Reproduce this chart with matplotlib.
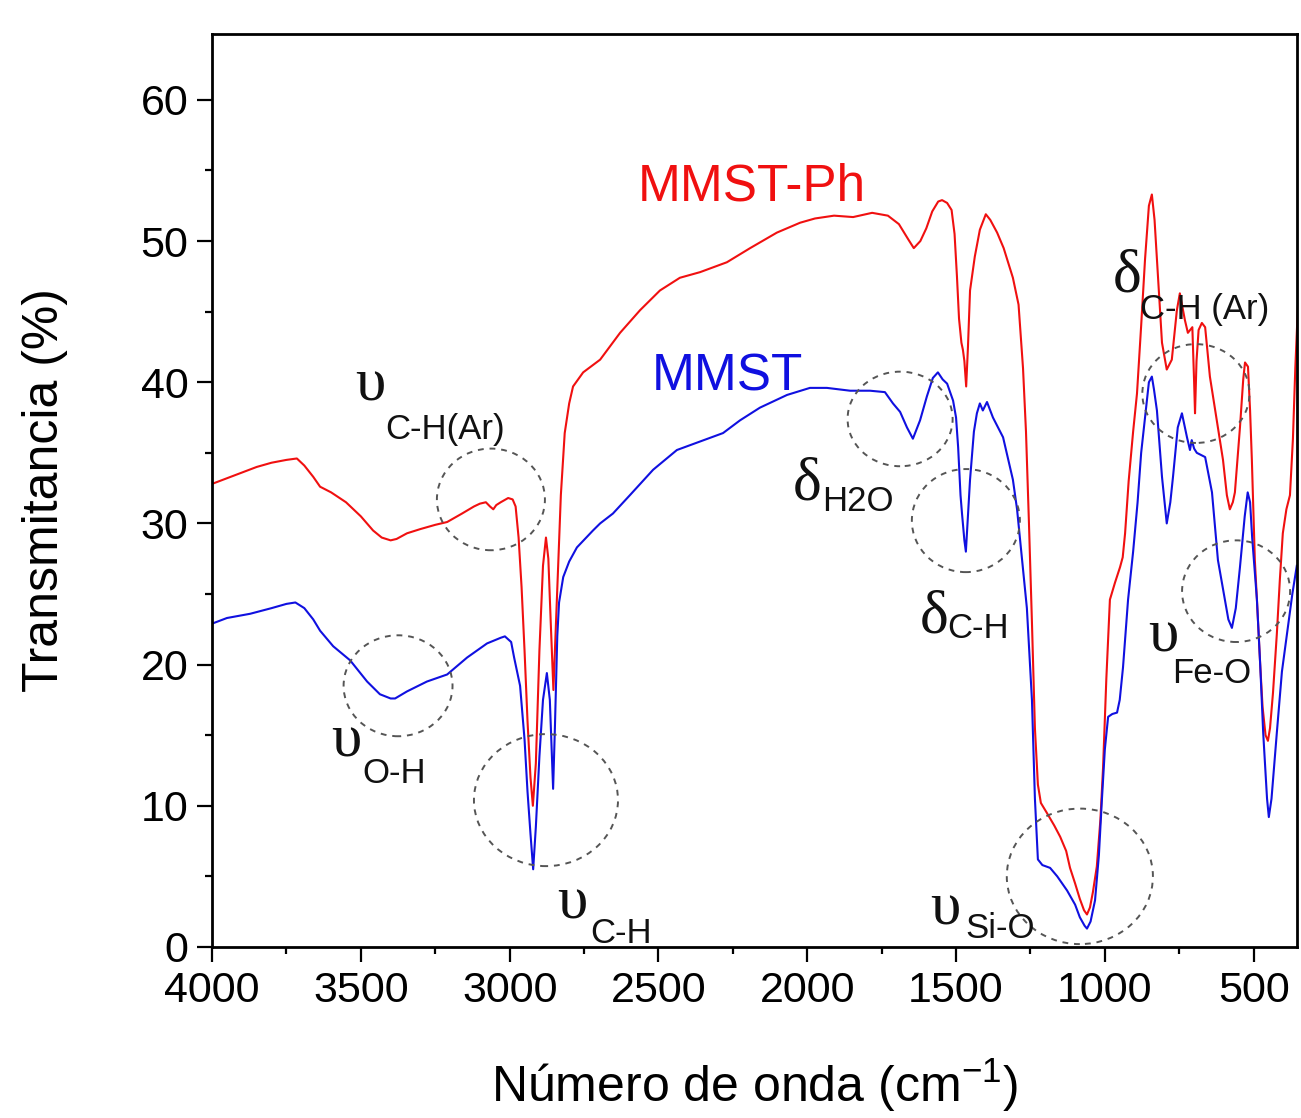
import matplotlib
matplotlib.use("Agg")
import matplotlib.pyplot as plt
from matplotlib.patches import Ellipse
from matplotlib.ticker import MultipleLocator

# FTIR spectra: wavenumber (cm^-1) and transmittance (%)
wn_ph = [4000, 3950, 3900, 3850, 3800, 3750, 3715, 3690, 3660, 3637, 3600, 3550,
         3500, 3459, 3430, 3400, 3380, 3345, 3300, 3250, 3210, 3160, 3120, 3100,
         3080, 3066, 3055, 3045, 3030, 3005, 2990, 2980, 2970, 2960, 2950, 2940,
         2930, 2922, 2912, 2900, 2888, 2878, 2870, 2862, 2853, 2845, 2837, 2828,
         2815, 2800, 2787, 2753, 2696, 2629, 2562, 2495, 2428, 2360, 2270, 2192,
         2102, 2024, 1974, 1910, 1846, 1782, 1729, 1692, 1660, 1642, 1620, 1600,
         1580, 1560, 1547, 1530, 1515, 1505, 1497, 1490, 1482, 1477, 1472, 1466,
         1460, 1453, 1437, 1420, 1400, 1385, 1362, 1340, 1309, 1290, 1275, 1265,
         1255, 1245, 1235, 1225, 1215, 1195, 1170, 1150, 1130, 1117, 1100, 1084,
         1070, 1060, 1050, 1040, 1027, 1015, 1006, 995, 983, 966, 949, 940, 932,
         920, 905, 892, 878, 865, 852, 842, 833, 825, 808, 792, 775, 758, 748,
         731, 721, 706, 700, 697, 692, 685, 674, 663, 647, 624, 603, 590, 580,
         570, 563, 546, 535, 529, 519, 512, 506, 496, 489, 478, 470, 460, 452,
         445, 435, 422, 412, 402, 390, 378, 368, 360, 350]
t_ph = [32.8, 33.2, 33.6, 34.0, 34.3, 34.5, 34.6, 34.1, 33.3, 32.6, 32.2, 31.5,
        30.5, 29.5, 29.0, 28.8, 28.9, 29.3, 29.6, 29.9, 30.1, 30.7, 31.2, 31.4,
        31.5, 31.2, 31.0, 31.3, 31.5, 31.8, 31.7, 31.2, 29.0, 25.5, 21.0, 16.0,
        12.0, 10.0, 13.0, 21.0, 27.0, 29.0, 27.5, 23.0, 18.2, 22.5, 27.0, 32.0,
        36.4, 38.5, 39.7, 40.7, 41.6, 43.5, 45.1, 46.5, 47.4, 47.8, 48.5, 49.5,
        50.6, 51.3, 51.6, 51.8, 51.7, 52.0, 51.8, 51.2, 50.1, 49.5, 50.0, 50.9,
        52.1, 52.8, 52.9, 52.7, 52.2, 50.5, 47.5, 44.5, 42.8, 42.3, 41.5, 39.7,
        42.5, 46.5, 48.9, 50.8, 51.9, 51.5, 50.6, 49.5, 47.4, 45.5, 41.0, 36.5,
        30.0, 23.0, 15.5, 11.5, 10.2, 9.5, 8.6, 7.8, 6.8, 5.6, 4.5, 3.4,
        2.6, 2.3, 2.8, 3.9, 5.7, 9.0, 12.7, 19.0, 24.6, 25.8, 26.9, 27.6, 29.3,
        33.0, 36.5, 39.2, 44.0, 48.7, 52.5, 53.3, 51.5, 48.7, 42.8, 40.9, 41.6, 45.1, 46.3,
        44.4, 43.5, 43.9, 40.0, 37.8, 41.5, 43.7, 44.2, 43.9, 40.4, 37.3, 34.5, 32.0, 31.0,
        31.5, 32.2, 36.8, 40.2, 41.4, 41.1, 38.0, 34.5, 27.4, 24.6, 20.0, 17.0, 15.0, 14.6,
        15.5, 18.0, 22.2, 26.0, 29.3, 31.0, 32.0, 36.0, 41.0, 46.0]

wn_mmst = [4000, 3950, 3872, 3800, 3750, 3720, 3690, 3660, 3637, 3593, 3536, 3479,
           3436, 3400, 3385, 3345, 3278, 3210, 3143, 3076, 3030, 3016, 2995, 2985,
           2965, 2950, 2940, 2930, 2921, 2912, 2900, 2888, 2875, 2865, 2858, 2854,
           2848, 2840, 2834, 2820, 2800, 2774, 2720, 2696, 2653, 2596, 2518, 2438,
           2360, 2283, 2226, 2159, 2068, 1991, 1934, 1856, 1789, 1739, 1712, 1688,
           1665, 1645, 1621, 1598, 1578, 1561, 1545, 1530, 1510, 1500, 1493, 1485,
           1480, 1472, 1467, 1460, 1453, 1440, 1430, 1420, 1410, 1396, 1376, 1342,
           1309, 1295, 1275, 1262, 1245, 1235, 1225, 1210, 1184, 1160, 1127, 1100,
           1084, 1068, 1060, 1048, 1033, 1020, 1010, 1000, 989, 975, 959, 950, 939,
           922, 905, 890, 878, 865, 852, 842, 835, 825, 808, 792, 780, 771, 755,
           741, 724, 714, 708, 700, 691, 663, 640, 620, 600, 585, 573, 560, 546,
           530, 520, 512, 505, 489, 478, 468, 455, 449, 440, 422, 405, 388, 370, 355]
t_mmst = [22.9, 23.3, 23.6, 24.0, 24.3, 24.4, 24.0, 23.2, 22.4, 21.3, 20.3, 18.8,
          17.9, 17.6, 17.6, 18.1, 18.8, 19.3, 20.5, 21.5, 21.9, 22.0, 21.6, 20.5,
          18.5, 14.7, 11.0, 8.0, 5.5, 8.5, 13.5, 17.5, 19.4, 17.5, 13.5, 11.2,
          15.5, 22.0, 24.4, 26.2, 27.3, 28.3, 29.5, 30.0, 30.7, 32.0, 33.8, 35.2,
          35.8, 36.4, 37.3, 38.2, 39.1, 39.6, 39.6, 39.4, 39.4, 39.3, 38.5, 37.9,
          36.8, 36.0, 37.3, 39.0, 40.3, 40.7, 40.2, 39.9, 38.7, 37.5, 35.4, 32.0,
          30.7, 28.8, 28.0, 30.5, 33.1, 36.5, 37.8, 38.5, 38.0, 38.6, 37.5, 36.1,
          33.1, 31.0, 26.8, 24.0, 17.5, 10.5, 6.2, 5.8, 5.6, 5.0, 4.0, 3.0,
          2.1, 1.5, 1.3, 1.8, 3.3, 6.5, 10.4, 14.0, 16.3, 16.5, 16.6, 17.5, 19.8,
          24.6, 28.0, 31.5, 35.0, 37.5, 40.0, 40.4, 39.5, 38.0, 33.3, 30.0, 31.5, 33.3, 36.8,
          37.8, 36.1, 35.2, 35.9, 35.3, 35.0, 34.7, 32.2, 27.4, 25.0, 23.2, 22.6, 24.0, 26.9,
          30.5, 32.2, 31.5, 29.0, 24.6, 20.0, 15.2, 10.5, 9.2, 10.5, 15.2, 19.5, 22.2, 25.0, 27.0]

x_ticks = [4000, 3500, 3000, 2500, 2000, 1500, 1000, 500]
y_ticks = [0, 10, 20, 30, 40, 50, 60]

SANS = ["Liberation Sans", "DejaVu Sans"]
SERIF = ["Liberation Serif", "DejaVu Serif"]
RED = "#f01010"
BLUE = "#1010e0"

plt.rcParams["font.family"] = SANS

fig = plt.figure(figsize=(13.01, 11.18), dpi=100)
ax = fig.add_axes([0.163, 0.153, 0.834, 0.817])

ax.plot(wn_ph, t_ph, color=RED, lw=1.5)
ax.plot(wn_mmst, t_mmst, color=BLUE, lw=1.5)

ax.set_xlim(4000, 354)
ax.set_ylim(0, 64.7)
ax.set_xticks(x_ticks)
ax.set_yticks(y_ticks)
ax.xaxis.set_minor_locator(MultipleLocator(250))
ax.yaxis.set_minor_locator(MultipleLocator(5))
ax.tick_params(which="major", direction="out", length=11, width=1.6,
               labelsize=31, pad=6)
ax.tick_params(which="minor", direction="out", length=5, width=1.6)
for sp in ax.spines.values():
    sp.set_linewidth(2.0)

ax.set_xlabel("Número de onda (cm$^{\\mathregular{-1}}$)", fontsize=36, labelpad=33)
ax.set_ylabel("Transmitancia (%)", fontsize=36, labelpad=52)

# series names
ax.text(2569, 52.9, "MMST-Ph", color=RED, fontsize=37, ha="left", va="baseline")
ax.text(2522, 39.45, "MMST", color=BLUE, fontsize=37, ha="left", va="baseline")

# dashed circles marking the assigned bands: (center wn, center T, width wn, height T)
circles = [
    (3063, 31.7, 363, 7.2),
    (3375, 18.5, 366, 7.15),
    (2878, 10.4, 484, 9.35),
    (1688, 37.4, 353, 6.7),
    (1467, 30.2, 363, 7.3),
    (1084, 5.0, 491, 9.6),
    (559, 25.2, 363, 7.2),
    (694, 39.2, 360, 7.0),
]
for cx, cy, w, h in circles:
    ax.add_patch(Ellipse((cx, cy), w, h, fill=False, ls=(0, (3, 3)),
                         lw=1.4, ec="#555555", zorder=3))

# band assignments: greek symbol + subscript
bands = [
    ("υ", 3520, 38.7, "C-H(Ar)", 3419, 36.0),
    ("υ", 3600, 13.5, "O-H", 3496, 11.6),
    ("υ", 2841, 2.05, "C-H", 2730, 0.28),
    ("δ", 2048, 31.7, "H2O", 1950, 30.9),
    ("δ", 1621, 22.3, "C-H", 1530, 21.9),
    ("υ", 1588, 1.56, "Si-O", 1470, 0.64),
    ("υ", 855, 20.9, "Fe-O", 774, 18.7),
    ("δ", 973, 46.4, "C-H (Ar)", 882, 44.5),
]
for sym, sx, sy, sub, bx, by in bands:
    ax.text(sx, sy, sym, fontsize=44, family=SERIF, ha="left", va="baseline",
            color="#111111", zorder=4)
    ax.text(bx, by, sub, fontsize=25, ha="left", va="baseline",
            color="#111111", zorder=4)

fig.savefig("out.png", dpi=100)
